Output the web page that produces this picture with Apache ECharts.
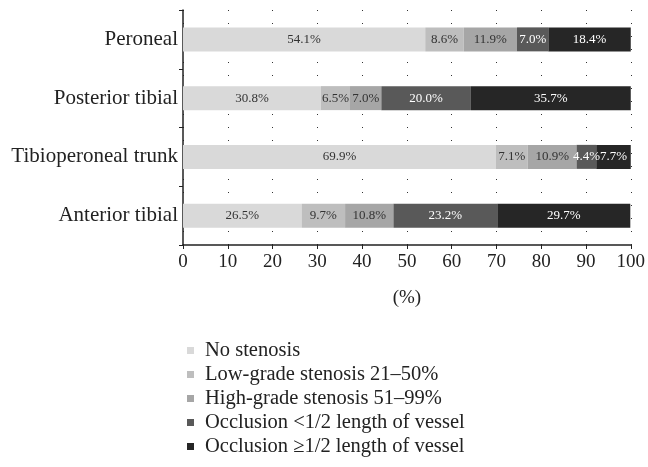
<!DOCTYPE html>
<html><head><meta charset="utf-8">
<script src="https://cdn.jsdelivr.net/npm/echarts@6/dist/echarts.min.js"></script>
<style>html,body{margin:0;padding:0;background:#fff}#c{width:648px;height:467px}</style>
</head><body><div id="c"></div>
<script>
const categories = ['Anterior tibial', 'Tibioperoneal trunk', 'Posterior tibial', 'Peroneal'];
const seriesNames = ['No stenosis', 'Low-grade stenosis 21\u201350%', 'High-grade stenosis 51\u201399%', 'Occlusion <1/2 length of vessel', 'Occlusion \u22651/2 length of vessel'];
const noStenosis = [26.5, 69.9, 30.8, 54.1];
const lowGrade = [9.7, 7.1, 6.5, 8.6];
const highGrade = [10.8, 10.9, 7.0, 11.9];
const occlShort = [23.2, 4.4, 20.0, 7.0];
const occlLong = [29.7, 7.7, 35.7, 18.4];
const colors = ['#d9d9d9', '#bebebe', '#a6a6a6', '#595959', '#262626'];
const labelColors = ['#333', '#333', '#333', '#fff', '#fff'];
const xTicks = [0, 10, 20, 30, 40, 50, 60, 70, 80, 90, 100];

const font = 'Liberation Serif, DejaVu Serif, serif';
const values = [noStenosis, lowGrade, highGrade, occlShort, occlLong];
const chart = echarts.init(document.getElementById('c'), null, {renderer: 'canvas'});
chart.setOption({
  animation: false,
  textStyle: {fontFamily: font},
  grid: {left: 183, right: 13, top: 10, bottom: 222, containLabel: false},
  xAxis: {
    type: 'value', min: 0, max: 100, interval: 10,
    name: '(%)', nameLocation: 'middle', nameGap: 44,
    nameTextStyle: {fontFamily: font, fontSize: 19, color: '#222'},
    axisLine: {show: true, lineStyle: {color: '#222', width: 1.5}},
    axisTick: {show: true, length: 4, lineStyle: {color: '#222'}},
    axisLabel: {fontFamily: font, fontSize: 19, color: '#222', margin: 8,
      formatter: v => xTicks.indexOf(v) >= 0 ? String(v) : ''},
    splitLine: {show: true, lineStyle: {color: '#333', type: [1, 12], width: 1}}
  },
  yAxis: {
    type: 'category', data: categories,
    axisLine: {show: true, lineStyle: {color: '#222', width: 1.5}},
    axisTick: {show: true, length: 4, inside: false, lineStyle: {color: '#222'}},
    axisLabel: {fontFamily: font, fontSize: 21, color: '#222', margin: 5},
    splitLine: {show: false}
  },
  legend: {
    orient: 'vertical', left: 182, top: 335, itemGap: 3,
    itemWidth: 7, itemHeight: 7, icon: 'rect',
    textStyle: {fontFamily: font, fontSize: 20.5, lineHeight: 21, color: '#222', padding: [0, 0, 0, 6]},
    data: seriesNames
  },
  series: seriesNames.map((n, i) => ({
    name: n, type: 'bar', stack: 'total', barWidth: 24,
    itemStyle: {color: colors[i]},
    label: {show: true, position: 'inside', fontFamily: font, fontSize: 13,
      color: labelColors[i], formatter: p => p.value.toFixed(1) + '%'},
    data: values[i]
  }))
});
</script></body></html>
